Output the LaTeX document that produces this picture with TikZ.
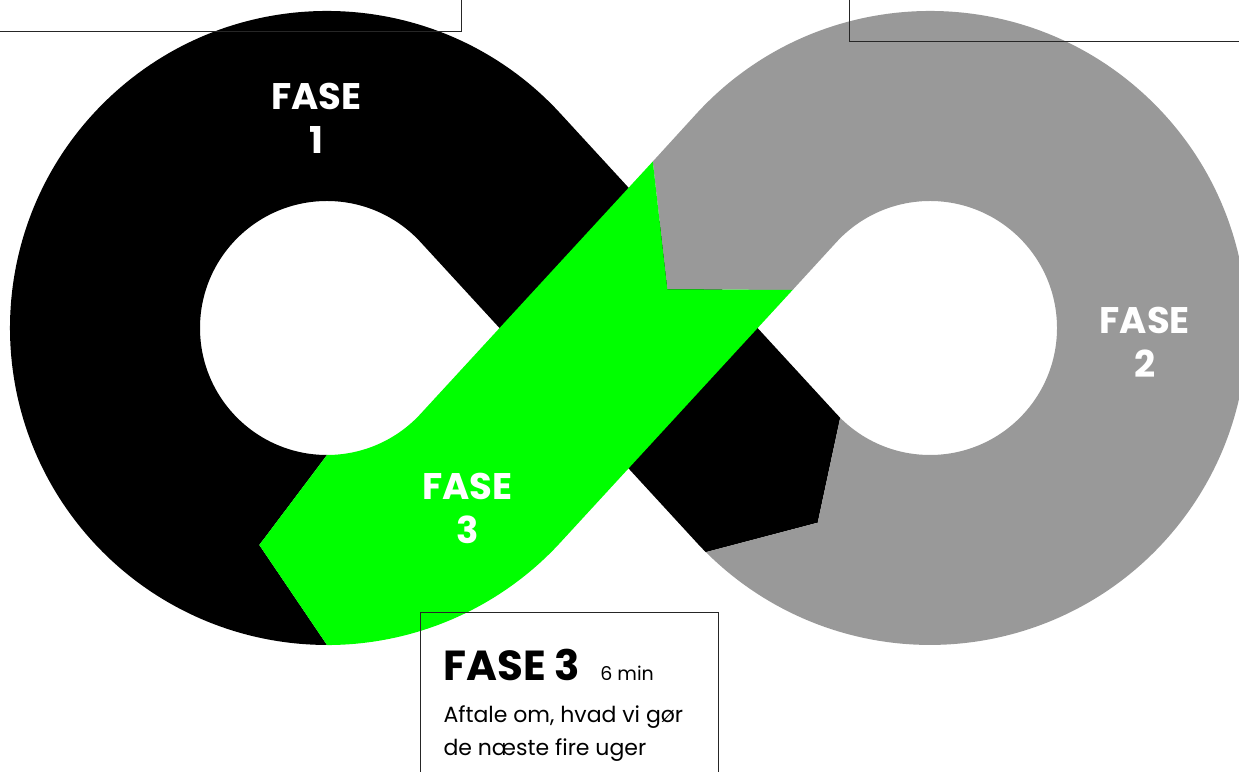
\documentclass[tikz,border=0pt]{standalone}
\usepackage{fontspec}
\setmainfont{Poppins}
\usepackage{xcolor}
\usepackage{tikz}

\definecolor{fasegroen}{HTML}{00FF00}
\definecolor{fasegraa}{HTML}{999999}

\begin{document}
\begin{tikzpicture}[x=1pt, y=1pt,
    fasenavn/.style={white, font=\fontsize{37}{44}\selectfont\bfseries, align=center, inner sep=0pt},
    ramme/.style={black!85, line width=1pt}]
    \useasboundingbox (0,0) rectangle (1239,771);
    \clip (0,0) rectangle (1239,771);

    % 1. Fase 1 (sort): venstre løkke og båndet ned mod højre
    \fill[black] (327,126) -- (259.3,226) -- (327,316)
        arc[start angle=270, end angle=42.6, radius=127] -- (696.7,228.4)
        arc[start angle=222.6, end angle=225, radius=317] -- (817.7,248.3) -- (840.2,353.2)
        arc[start angle=225, end angle=222.6, radius=127] -- (560.3,657.6)
        arc[start angle=42.6, end angle=270, radius=317] -- cycle;

    % 2. Fase 2 (grå): højre løkke
    \fill[fasegraa] (652.8,609.5) -- (696.7,657.6)
        arc[start angle=137.4, end angle=-135, radius=317] -- (817.7,248.3) -- (840.2,353.2)
        arc[start angle=-135, end angle=137.4, radius=127] -- (792.6,481) -- (667.3,481.7) -- cycle;

    % 3. Fase 3 (grøn): båndet op mod højre
    \fill[fasegroen] (327,126) -- (259.3,226) -- (327,316)
        arc[start angle=270, end angle=317.4, radius=127] -- (652.8,609.5) -- (667.3,481.7) -- (792.6,481) -- (560.3,228.4)
        arc[start angle=-42.6, end angle=-90, radius=317] -- cycle;

    % 4. Navne på faserne
    \node[fasenavn] (fase1) at (316.3,653) {FASE\\1};
    \node[fasenavn] (fase2) at (1144.7,428.3) {FASE\\2};
    \node[fasenavn] (fase3) at (467.5,262.7) {FASE\\3};

    % 5. Rammer
    \draw[ramme] (-5,739.7) -- (461,739.7) -- (461,780);
    \draw[ramme] (849,780) -- (849,729.3) -- (1245,729.3);
    \draw[ramme] (420,-10) -- (420,158.7) -- (718.3,158.7) -- (718.3,-10);

    % 6. Tekst i den nederste ramme
    \node[anchor=base west, inner sep=0pt] (titel) at (443.3,91)
        {{\fontsize{42}{50}\selectfont\bfseries FASE 3}\hspace{20pt}{\fontsize{19}{22}\selectfont 6 min}};
    \node[anchor=base west, inner sep=0pt, align=left, font=\fontsize{22}{32.3}\selectfont] (tekst)
        at ([yshift=-75]titel.base west) {Aftale om, hvad vi gør\\de næste fire uger};
\end{tikzpicture}
\end{document}
